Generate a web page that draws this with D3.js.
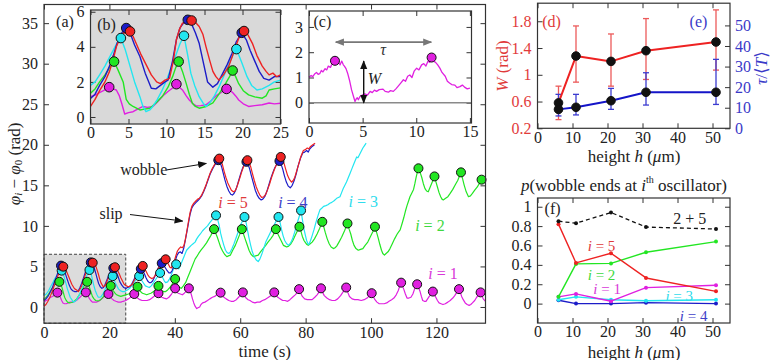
<!DOCTYPE html>
<html><head><meta charset="utf-8">
<script src="https://cdn.jsdelivr.net/npm/d3@7"></script>
<style>body{margin:0;background:#fff}svg text{font-family:"Liberation Serif","DejaVu Serif","Times New Roman",serif !important}</style>
</head><body><svg id="c" width="770" height="360"></svg>
<script>
// ---------------- DATA ----------------
// panel (a): phase difference time series [time (s), rad]
const a5 = [[0,0.1],[0.6,0.3],[1.2,0.7],[2,1.4],[2.6,2.0],[3,2.5],[3.6,3.1],[4.2,3.8],[4.8,4.4],[5.3,4.6],[5.9,4.97],[6.5,4.8],[7,4.3],[7.5,3.8],[8,3.3],[8.5,2.8],[9.1,2.4],[9.5,2.2],[10,2.1],[10.5,1.9],[11,2.2],[11.5,2.6],[12,3.2],[12.5,3.8],[13,4.4],[13.5,4.9],[14.2,5.3],[14.9,5.46],[15.4,5.35],[15.8,5.1],[16.2,4.6],[16.6,4.1],[17,3.5],[17.4,3.0],[18.1,2.5],[18.6,2.6],[19,2.9],[19.5,3.4],[20,3.9],[20.5,4.3],[21,4.6],[21.7,4.9],[22.1,4.8],[22.5,4.5],[23,4.1],[23.5,3.6],[24,3.2],[24.5,2.8],[25.2,2.6],[25.8,2.5],[26.4,2.6],[27,2.8],[27.6,3.3],[28.2,3.8],[28.7,4.3],[29.2,4.6],[29.7,4.9],[30.2,5.06],[30.7,4.8],[31.2,4.4],[31.7,4.0],[32.2,3.7],[32.9,3.5],[33.5,3.6],[34,3.9],[34.5,4.3],[35,4.8],[35.6,5.2],[36.2,5.5],[36.7,5.7],[37.2,5.88],[37.6,5.7],[38,5.3],[38.5,4.9],[38.9,4.8],[39.3,5.1],[39.8,5.6],[40.3,6.3],[40.8,6.9],[41.3,7.2],[41.8,7.4],[42.3,7.3],[42.8,7.6],[43.2,8.3],[43.7,9.4],[44.2,10.6],[44.7,11.7],[45.2,12.4],[45.8,12.8],[46.5,13.1],[47,13.3],[47.5,13.4],[48.2,13.8],[48.8,14.3],[49.5,15.0],[50.1,15.7],[50.8,16.5],[51.5,17.1],[52.2,17.6],[52.9,18.1],[53.6,18.3],[54.1,18.1],[54.6,17.5],[55.1,16.7],[55.6,16.0],[56.2,15.3],[56.8,14.8],[57.3,14.4],[57.9,14.2],[58.4,14.3],[58.8,14.6],[59.3,15.2],[59.8,15.8],[60.4,16.6],[61,17.3],[61.6,17.8],[62.2,18.1],[62.7,17.8],[63.2,17.3],[63.7,16.5],[64.3,15.6],[64.9,14.8],[65.5,14.2],[66,13.8],[66.6,13.5],[67.2,13.6],[67.8,13.9],[68.4,14.5],[69,15.2],[69.6,16.0],[70.3,16.8],[70.9,17.4],[71.5,17.9],[72.4,18.5],[72.9,18.2],[73.4,17.7],[73.9,17.0],[74.5,16.2],[75.1,15.7],[75.7,15.4],[76.2,15.6],[76.7,16.0],[77.2,16.7],[77.8,17.5],[78.5,18.5],[79.3,19.3],[79.9,19.4],[80.5,19.6],[81,19.5],[81.5,19.8],[82.2,20.0],[82.9,20.2]];
const a4 = [[0,0.8],[0.6,1.0],[1.2,1.3],[2,1.9],[2.6,2.4],[3,2.9],[3.6,3.5],[4.2,4.2],[4.7,4.8],[5.2,5.1],[5.7,4.9],[6.2,4.5],[6.7,3.9],[7.2,3.3],[7.7,2.7],[8.3,2.2],[8.8,2.0],[9.4,1.9],[10,1.9],[10.5,2.0],[11,2.4],[11.5,2.9],[12,3.5],[12.5,4.1],[13,4.7],[13.6,5.2],[14.3,5.5],[14.8,5.3],[15.3,4.9],[15.8,4.2],[16.2,3.6],[16.7,2.9],[17.2,2.5],[17.7,2.3],[18.2,2.4],[18.7,2.8],[19.2,3.3],[19.7,3.8],[20.2,4.3],[20.7,4.6],[21.2,4.8],[21.7,4.6],[22.2,4.2],[22.7,3.7],[23.2,3.1],[23.8,2.7],[24.4,2.4],[25,2.3],[25.6,2.4],[26.2,2.5],[26.8,2.8],[27.4,3.3],[28,3.8],[28.5,4.3],[29.2,4.6],[29.7,4.7],[30.2,4.5],[30.7,4.1],[31.2,3.6],[31.7,3.2],[32.2,3.0],[32.7,3.0],[33.2,3.2],[33.7,3.6],[34.2,4.1],[34.8,4.7],[35.4,5.1],[36,5.4],[36.5,5.2],[37,4.9],[37.6,4.5],[38.2,4.2],[38.7,4.2],[39.2,4.5],[39.7,5.1],[40.2,5.8],[40.7,6.4],[41.2,6.7],[41.7,6.8],[42.2,6.6],[42.7,7.2],[43.2,8.2],[43.7,9.3],[44.2,10.4],[44.7,11.5],[45.2,12.2],[45.8,12.6],[46.5,12.9],[47,13.1],[47.5,13.3],[48.2,13.7],[48.8,14.2],[49.5,14.9],[50.1,15.6],[50.8,16.4],[51.5,17.0],[52.2,17.5],[52.8,17.9],[53.3,18.1],[53.8,17.9],[54.3,17.3],[54.8,16.5],[55.3,15.7],[55.9,14.9],[56.5,14.3],[57.1,13.9],[57.6,13.8],[58.1,14.0],[58.6,14.4],[59.1,15.0],[59.6,15.7],[60.2,16.5],[60.8,17.2],[61.4,17.7],[61.9,17.9],[62.4,17.6],[62.9,17.0],[63.4,16.2],[64,15.3],[64.6,14.4],[65.2,13.8],[65.8,13.4],[66.4,13.2],[66.9,13.3],[67.5,13.6],[68.1,14.2],[68.7,15.0],[69.3,15.8],[70,16.6],[70.6,17.2],[71.2,17.6],[72,18.0],[72.5,17.6],[73,17.0],[73.5,16.2],[74.1,15.4],[74.7,14.9],[75.3,14.7],[75.9,15.0],[76.5,15.6],[77.1,16.4],[77.7,17.4],[78.4,18.3],[79.1,19.0],[79.7,19.1],[80.3,19.3],[80.8,19.1],[81.3,19.5],[82,19.8],[82.7,20.0]];
const a3 = [[0,1.4],[0.7,1.6],[1.4,2.0],[2,2.5],[2.7,3.0],[3.3,3.5],[4,3.9],[4.7,4.3],[5.4,4.48],[5.9,4.1],[6.3,3.5],[6.7,2.9],[7.1,2.3],[7.6,1.7],[8,1.2],[8.5,0.9],[9,0.6],[9.5,0.7],[10,0.9],[10.5,1.3],[11,1.7],[11.5,2.2],[12,2.7],[12.5,3.2],[13,3.8],[13.5,4.3],[13.9,4.56],[14.4,4.1],[14.8,3.4],[15.2,2.7],[15.7,2.0],[16.2,1.5],[16.6,1.2],[17.1,1.2],[17.5,1.3],[18,1.6],[18.5,2.0],[19,2.5],[19.5,3.0],[20.2,3.5],[21,3.8],[21.4,3.4],[21.8,3.0],[22.3,2.6],[22.8,2.2],[23.4,2.0],[24,1.9],[24.7,1.9],[25.5,2.1],[26.2,2.3],[26.8,2.6],[27.4,2.9],[28,3.3],[28.6,3.6],[29.1,3.8],[29.6,3.5],[30,3.2],[30.5,2.9],[31,2.6],[31.6,2.5],[32.2,2.4],[32.8,2.6],[33.5,3.0],[34,3.3],[34.5,3.6],[35,3.9],[35.5,4.2],[35.9,3.9],[36.3,3.6],[36.8,3.2],[37.2,3.0],[37.8,3.1],[38.3,3.4],[38.9,3.9],[39.4,4.5],[39.9,4.9],[40.4,5.26],[40.8,4.9],[41.2,4.7],[41.7,5.1],[42.2,5.6],[42.8,6.2],[43.6,7.0],[44.3,7.3],[45,7.6],[45.6,7.8],[46.2,8.0],[46.7,8.4],[47.2,8.7],[47.8,9.0],[48.5,9.4],[49.2,9.7],[50,10.0],[50.7,10.4],[51.5,10.8],[52.1,11.1],[52.6,11.3],[53.1,10.8],[53.6,10.0],[54,9.1],[54.5,8.3],[55,7.6],[55.5,7.0],[56,6.7],[56.5,6.6],[57,6.8],[57.5,7.2],[58.1,7.8],[58.8,8.6],[59.5,9.4],[60.2,10.2],[60.8,10.7],[61.3,11.1],[61.8,10.4],[62.2,9.5],[62.7,8.5],[63.2,7.6],[63.7,6.8],[64.3,6.2],[64.9,5.8],[65.5,5.6],[66,5.9],[66.5,6.4],[67.1,7.1],[67.8,8.0],[68.4,8.5],[69,9.0],[69.7,9.6],[70.5,10.2],[71.1,10.7],[71.7,11.1],[72.2,10.4],[72.6,9.6],[73.1,8.8],[73.6,8.2],[74.2,7.8],[74.8,7.6],[75.4,7.9],[76,8.4],[76.7,9.3],[77.3,10.2],[78,11.1],[78.6,11.9],[79,10.8],[79.5,9.6],[80,8.7],[80.3,8.2],[80.7,7.8],[81,7.7],[81.5,8.2],[82,8.8],[82.6,9.6],[83.2,10.5],[83.8,11.3],[84.4,12.0],[85,12.2],[85.5,12.4],[86.2,12.5],[86.8,12.6],[87.4,12.8],[88,12.9],[88.7,13.1],[89.5,13.4],[90.5,13.6],[91,14.1],[91.5,14.6],[92,15.0],[92.5,15.4],[93,15.9],[93.6,16.5],[94.1,17.0],[94.6,17.5],[95.1,18.0],[95.6,18.5],[96,18.4],[96.5,18.8],[97,19.2],[97.5,19.6],[98,19.9],[98.5,20.2]];
const a2 = [[0,0.9],[0.7,1.2],[1.4,1.6],[2,2.0],[2.6,2.4],[3.2,2.7],[4,2.9],[4.7,3.1],[5.1,2.8],[5.5,2.4],[5.9,1.8],[6.3,1.2],[6.8,0.8],[7.2,0.6],[7.8,0.5],[8.5,0.55],[9,0.65],[9.5,0.8],[10,1.0],[10.5,1.3],[11,1.6],[11.5,2.0],[12,2.4],[12.4,2.7],[12.8,2.9],[13.2,3.1],[13.6,2.8],[14,2.3],[14.4,1.8],[14.8,1.3],[15.3,1.0],[15.8,0.8],[16.4,0.75],[17,0.8],[17.6,1.0],[18.2,1.3],[18.8,1.6],[19.4,2.0],[19.9,2.3],[20.4,2.6],[20.8,2.3],[21.2,2.0],[21.7,1.7],[22.2,1.5],[22.8,1.4],[23.5,1.3],[24.2,1.4],[25,1.5],[25.8,1.6],[26.5,1.7],[27.1,1.9],[27.6,2.2],[28.1,2.4],[28.6,2.5],[29,2.2],[29.5,1.9],[30.1,1.7],[30.8,1.6],[31.4,1.5],[32,1.6],[32.7,1.7],[33.5,1.9],[34.2,2.2],[35,2.6],[35.5,2.3],[36,2.0],[36.6,1.9],[37.2,1.9],[37.8,2.1],[38.5,2.4],[39.3,2.9],[40.1,3.45],[40.5,3.0],[41,2.6],[41.5,2.4],[42,2.3],[42.6,2.6],[43.3,3.0],[43.9,3.6],[44.5,4.2],[45.2,4.9],[45.8,5.5],[46.2,5.9],[46.7,6.2],[47.3,6.6],[48,7.0],[48.8,7.4],[49.7,7.9],[50.4,8.4],[51,8.8],[51.5,9.2],[52,9.6],[52.5,9.1],[53,8.6],[53.5,8.0],[54,7.4],[54.6,6.9],[55.2,6.5],[55.9,6.2],[56.4,6.3],[57,6.4],[57.7,7.0],[58.5,7.6],[59.1,8.2],[59.7,8.8],[60.1,9.2],[60.5,9.6],[61,9.0],[61.5,8.4],[62.1,7.7],[62.7,7.0],[63.3,6.5],[64,6.2],[64.7,6.3],[65.5,6.4],[66.2,6.8],[67,7.2],[67.8,7.6],[68.5,8.0],[69.3,8.4],[70,8.8],[70.5,9.2],[70.9,9.6],[71.4,9.1],[72,8.6],[72.6,8.1],[73.2,7.6],[73.7,7.5],[74.2,7.4],[74.8,7.5],[75.5,7.8],[76.1,8.2],[76.8,8.8],[77.5,9.4],[78.1,9.9],[78.6,9.3],[79,8.7],[79.5,8.2],[80,7.9],[80.4,7.7],[80.8,7.6],[81.4,7.8],[82,8.0],[82.7,8.4],[83.5,9.0],[84.3,9.7],[85.1,10.5],[85.6,9.8],[86,9.2],[86.6,8.4],[87.2,7.8],[87.8,7.4],[88.5,7.2],[89,7.3],[89.5,7.5],[90.2,8.0],[91,8.6],[91.9,9.4],[92.8,10.3],[93.3,9.6],[93.8,9.0],[94.3,8.2],[94.8,7.6],[95.4,7.2],[96.1,7.0],[96.8,7.1],[97.5,7.2],[98.2,7.6],[99,8.0],[99.6,8.5],[100.2,9.0],[100.7,9.4],[101.2,9.9],[101.7,9.2],[102.2,8.5],[102.7,7.7],[103.2,7.0],[103.6,6.6],[104.1,6.4],[104.6,6.6],[105.2,6.8],[105.8,7.2],[106.5,7.8],[107.2,8.4],[108,9.0],[108.5,9.3],[108.9,9.5],[109.5,10.3],[110,11.0],[110.5,11.8],[111,12.5],[111.5,13.1],[111.9,13.6],[112.4,14.0],[113,14.5],[113.4,15.2],[113.8,16.0],[114.2,16.7],[114.5,17.1],[115,16.6],[115.5,16.0],[116,15.2],[116.5,14.6],[117,14.3],[117.5,14.2],[118,14.7],[118.5,15.2],[119,15.7],[119.4,16.1],[119.8,15.5],[120.3,14.8],[120.8,14.1],[121.3,13.6],[121.7,13.3],[122.1,13.2],[122.8,13.4],[123.5,13.6],[124.2,14.0],[125,14.5],[125.8,15.1],[126.5,15.6],[127,16.1],[127.5,16.6],[128,15.8],[128.5,15.0],[129.1,14.2],[129.8,13.6],[130.4,13.7],[131,14.0],[131.7,14.4],[132.5,14.8],[133.2,15.3],[133.8,15.7],[134.4,15.4],[135,15.3]];
const a1 = [[0,0.6],[0.6,0.8],[1.2,0.9],[2,1.2],[2.6,1.3],[3.3,1.5],[4.1,1.77],[4.6,1.5],[5,1.2],[5.4,0.8],[5.8,0.5],[6.3,0.4],[6.8,0.4],[7.4,0.5],[8,0.6],[8.7,0.6],[9.5,0.7],[10.2,0.9],[11,1.2],[11.5,1.4],[12,1.6],[12.8,1.8],[13.3,1.5],[13.8,1.1],[14.3,0.8],[14.8,0.6],[15.4,0.6],[16,0.6],[16.7,0.7],[17.3,0.9],[17.9,1.1],[18.5,1.3],[19.1,1.5],[19.7,1.6],[20.2,1.3],[20.8,1.0],[21.4,0.8],[22,0.7],[22.7,0.6],[23.5,0.6],[24.2,0.7],[25,0.8],[25.8,1.0],[26.5,1.2],[27.1,1.4],[27.6,1.6],[28.1,1.3],[28.6,1.1],[29.3,0.9],[30,0.8],[30.7,0.8],[31.5,0.8],[32.3,0.9],[33,1.1],[33.6,1.3],[34.2,1.5],[35,1.7],[35.5,1.4],[36,1.2],[36.7,1.1],[37.5,1.0],[38.2,1.2],[39,1.6],[39.6,2.0],[40.1,2.3],[40.5,1.9],[41,1.7],[41.7,1.6],[42.3,1.5],[42.9,1.7],[43.4,1.9],[43.9,2.1],[44.3,2.3],[44.7,1.9],[45,1.6],[45.4,1.0],[45.8,0.5],[46.2,0.1],[46.7,-0.2],[47.1,-0.1],[47.6,0.0],[48,0.3],[48.5,0.5],[49.2,0.6],[50,0.8],[50.7,1.0],[51.5,1.2],[52.2,1.3],[52.8,1.5],[53.4,1.6],[54,1.77],[54.5,1.5],[55,1.2],[55.7,1.0],[56.5,0.8],[57.2,0.7],[58,0.7],[58.8,0.9],[59.5,1.2],[60.2,1.5],[60.8,1.8],[61.3,1.4],[61.8,1.1],[62.4,0.9],[63,0.8],[63.7,0.6],[64.5,0.5],[65.2,0.6],[66,0.6],[66.8,0.8],[67.5,0.9],[68.3,1.1],[69,1.3],[69.7,1.5],[70.4,1.8],[70.9,1.5],[71.5,1.2],[72.2,1.0],[73,0.8],[73.7,0.8],[74.5,0.7],[75.2,0.9],[76,1.2],[76.8,1.5],[77.5,1.8],[78,2.2],[78.5,1.7],[79,1.3],[79.7,1.0],[80.5,0.9],[81.2,0.9],[82,0.9],[82.8,1.2],[83.5,1.5],[84.2,1.9],[84.7,2.3],[85.2,1.8],[85.7,1.4],[86.5,1.1],[87.3,0.9],[88.1,0.8],[89,0.8],[89.8,1.0],[90.7,1.4],[91.5,1.9],[92.4,2.4],[92.9,1.8],[93.4,1.3],[94.2,1.0],[95,0.9],[96,0.9],[97,0.8],[97.9,0.9],[98.8,1.1],[99.5,1.4],[100.2,1.7],[100.7,1.3],[101.2,0.9],[101.8,0.6],[102.5,0.4],[103.3,0.4],[104,0.4],[104.8,0.5],[105.5,0.7],[106.3,0.9],[107,1.1],[107.7,1.5],[108.3,2.0],[108.8,2.6],[109.2,3.0],[109.6,2.6],[110,2.2],[110.5,1.6],[111,1.1],[111.6,1.1],[112.2,1.2],[112.8,1.6],[113.3,2.2],[113.7,2.5],[114.1,2.8],[114.5,2.4],[115,1.9],[115.4,1.3],[115.8,0.8],[116.3,0.7],[116.8,0.7],[117.3,1.0],[117.8,1.3],[118.4,1.6],[118.9,1.9],[119.3,1.6],[119.8,1.2],[120.3,0.8],[120.8,0.5],[121.4,0.4],[122,0.3],[122.7,0.4],[123.5,0.6],[124.2,0.8],[125,1.1],[125.6,1.4],[126.2,1.8],[126.9,2.2],[127.3,1.8],[127.7,1.3],[128.2,0.9],[128.8,0.5],[129.4,0.3],[130,0.2],[130.5,0.3],[131,0.5],[131.7,0.8],[132.3,1.2],[132.9,1.5],[133.5,1.8],[133.9,1.4],[134.3,1.0],[135,0.7]];
// peak markers in (a)
const pk5 = [[5.9,4.97],[14.9,5.46],[21.7,4.9],[30.2,5.06],[37.2,5.88],[53.6,18.3],[62.2,18.1],[72.4,18.5]];
const pk4 = [[5.2,5.1],[14.3,5.5],[21.2,4.8],[29.6,4.7],[36.0,5.4],[53.3,18.1],[61.9,17.9],[72.0,18.0]];
const pk3 = [[5.4,4.48],[13.9,4.56],[21.0,3.8],[29.1,3.8],[35.5,4.2],[40.4,5.26],[52.6,11.3],[61.3,11.1],[71.7,11.1],[78.6,11.9]];
const pk2 = [[4.7,3.1],[13.2,3.1],[20.4,2.6],[28.6,2.5],[35.0,2.6],[40.1,3.45],[52.0,9.6],[60.5,9.6],[70.9,9.6],[78.1,9.9],[85.1,10.5],[92.8,10.3],[101.2,9.9],[114.5,17.1],[119.4,16.1],[127.5,16.6],[133.8,15.7]];
const pk1 = [[4.1,1.77],[12.8,1.8],[19.7,1.6],[27.6,1.6],[35.0,1.7],[40.1,2.3],[44.3,2.3],[54.0,1.77],[60.8,1.8],[70.4,1.8],[78.0,2.2],[84.7,2.3],[92.4,2.4],[100.2,1.7],[109.2,3.0],[114.1,2.8],[118.9,1.9],[126.9,2.2],[133.5,1.8]];
const ticksAx = [0,20,40,60,80,100,120];
const ticksAy = [0,5,10,15,20,25,30,35];
const zoomBox = [0,25,-2,6.5]; // t0,t1,v0,v1

// panel (b): first 25 s enlarged
const b5 = [[0,0.6],[0.6,1.0],[1.2,1.5],[1.9,2.0],[2.5,2.6],[3.0,3.3],[3.4,4.0],[3.9,4.5],[4.3,4.8],[4.8,4.75],[5.2,4.88],[5.6,4.6],[6.0,4.2],[6.6,3.6],[7.3,3.0],[8.0,2.4],[8.7,2.0],[9.2,1.9],[9.8,2.1],[10.4,2.2],[10.9,3.2],[11.3,4.4],[11.7,5.0],[12.1,5.35],[12.6,5.4],[13.2,5.5],[13.8,5.4],[14.3,5.16],[14.8,4.7],[15.2,4.0],[15.7,3.2],[16.1,2.6],[16.5,2.3],[16.9,2.1],[17.5,2.4],[18.2,2.9],[18.7,3.5],[19.1,4.0],[19.6,4.6],[20.2,4.9],[20.7,4.7],[21.3,4.2],[21.9,3.5],[22.6,2.9],[23.1,2.6],[23.5,2.4],[24.0,2.5],[24.5,2.3],[25,2.4]];
const b4 = [[0,1.05],[0.6,1.3],[1.2,1.8],[1.9,2.3],[2.5,2.9],[3.0,3.5],[3.5,4.2],[4.0,4.7],[4.4,5.0],[4.7,5.07],[5.2,4.8],[5.8,4.1],[6.5,3.45],[7.2,2.5],[8.0,1.64],[8.6,1.6],[9.2,1.8],[9.8,2.0],[10.2,2.1],[10.8,3.2],[11.3,4.4],[11.8,5.1],[12.3,5.4],[12.8,5.54],[13.4,5.2],[13.8,4.8],[14.3,4.2],[14.9,3.0],[15.4,2.0],[16.1,1.7],[16.7,1.9],[17.3,2.4],[18.0,3.0],[18.6,3.6],[19.2,4.3],[19.9,4.8],[20.5,4.4],[21.0,3.8],[21.5,3.3],[22.2,2.6],[22.8,2.2],[23.5,2.1],[24.2,2.3],[25,2.3]];
const b3 = [[0,1.8],[0.6,2.0],[1.2,2.4],[1.9,2.9],[2.5,3.4],[3.1,3.9],[3.6,4.3],[4.0,4.5],[4.6,3.8],[5.2,2.9],[5.8,2.0],[6.5,1.16],[6.9,0.6],[7.3,0.3],[7.8,0.4],[8.2,0.6],[8.8,1.0],[9.4,1.5],[10.0,2.1],[10.6,2.8],[11.3,3.6],[11.8,4.2],[12.3,4.63],[12.8,3.5],[13.2,2.5],[13.7,1.8],[14.3,1.16],[14.8,0.8],[15.2,0.6],[15.7,0.8],[16.3,1.2],[16.9,1.7],[17.5,2.3],[18.2,3.0],[18.7,3.5],[19.2,3.87],[19.9,3.1],[20.6,2.3],[21.2,1.8],[21.9,1.54],[22.6,1.6],[23.5,1.8],[24.2,2.0],[25,2.1]];
const b2 = [[0,1.35],[0.6,1.6],[1.2,2.0],[1.9,2.4],[2.5,2.8],[3.1,3.16],[3.6,2.7],[4.3,2.0],[4.7,1.0],[5.1,0.75],[5.6,0.6],[6.5,0.4],[7.1,0.45],[7.8,0.5],[8.6,0.8],[9.5,1.2],[10.2,1.7],[10.8,2.3],[11.2,2.8],[11.6,3.16],[12.1,2.6],[12.6,1.9],[13.0,1.3],[13.4,0.78],[13.8,0.6],[14.3,0.5],[15.2,0.6],[16.1,0.8],[16.9,1.3],[17.8,1.93],[18.3,2.3],[18.7,2.65],[19.1,2.3],[19.5,1.9],[20.1,1.5],[20.8,1.26],[21.6,1.15],[22.6,1.07],[23.1,1.2],[23.5,1.54],[24.2,1.6],[25,1.66]];
const b1 = [[0,1.16],[0.6,1.25],[1.24,1.4],[1.9,1.55],[2.46,1.7],[2.9,1.6],[3.4,1.54],[3.8,1.2],[4.1,0.78],[4.5,0.17],[5.0,0.25],[5.6,0.3],[6.2,0.45],[6.9,0.6],[7.5,0.55],[8.2,0.6],[8.8,0.85],[9.5,1.2],[10.2,1.45],[10.8,1.65],[11.3,1.87],[11.7,1.7],[12.1,1.54],[12.6,1.2],[13.0,0.97],[13.5,0.75],[13.9,0.63],[14.5,0.65],[15.2,0.7],[15.8,0.9],[16.5,1.2],[17.2,1.4],[17.9,1.6],[18.3,1.5],[18.7,1.4],[19.1,1.2],[19.5,0.97],[20.1,0.75],[20.8,0.6],[21.6,0.65],[22.6,0.7],[23.5,0.8],[24.2,0.75],[25,0.78]];
const bpk5 = [[5.2,4.88],[13.3,5.5],[20.2,4.9]];
const bpk4 = [[4.7,5.07],[12.8,5.54],[19.9,4.8]];
const bpk3 = [[4.0,4.5],[12.3,4.63],[19.2,3.87]];
const bpk2 = [[3.1,3.16],[11.6,3.16],[18.7,2.65]];
const bpk1 = [[2.46,1.7],[11.3,1.87],[17.9,1.6]];
const ticksBx = [0,5,10,15,20,25];
const ticksBy = [0,2,4,6];

// panel (c): oscillator 1, one wobble
const c1 = [[0,1.01],[0.2,1.08],[0.35,1.03],[0.55,1.15],[0.7,1.2],[0.85,1.12],[1.0,1.15],[1.15,1.28],[1.3,1.22],[1.5,1.35],[1.65,1.3],[1.8,1.45],[2.0,1.4],[2.2,1.58],[2.42,1.66],[2.6,1.55],[2.75,1.6],[2.9,1.5],[3.05,1.65],[3.2,1.5],[3.3,1.45],[3.45,1.35],[3.6,1.17],[3.8,0.85],[3.97,0.51],[4.15,0.25],[4.29,0.05],[4.4,0.15],[4.5,0.2],[4.6,0.12],[4.75,0.25],[4.95,0.3],[5.2,0.35],[5.45,0.3],[5.7,0.45],[5.9,0.4],[6.1,0.5],[6.3,0.45],[6.55,0.52],[6.9,0.54],[7.1,0.45],[7.4,0.42],[7.6,0.48],[7.86,0.45],[8.1,0.55],[8.3,0.65],[8.55,0.78],[8.8,0.91],[9.0,0.85],[9.2,1.05],[9.4,1.1],[9.6,1.0],[9.8,1.25],[10.04,1.37],[10.25,1.3],[10.5,1.5],[10.7,1.55],[10.9,1.45],[11.1,1.65],[11.25,1.6],[11.43,1.79],[11.6,1.65],[11.8,1.6],[12.0,1.5],[12.2,1.37],[12.4,1.2],[12.7,1.05],[12.9,0.85],[13.1,0.78],[13.3,0.72],[13.6,0.7],[13.8,0.6],[14.07,0.64],[14.3,0.7],[14.5,0.62],[14.75,0.55],[15,0.58]];
const cpk1 = [[2.42,1.66],[11.43,1.79]];
const tauArrow = [2.5,11.4,2.4];   // t0,t1,v
const wArrow = [5.1,0,1.65];       // t,v0,v1
const ticksCx = [0,5,10,15];
const ticksCy = [0,1,2,3];

// panels (d),(e): versus height
const heights = [6,11,21,31,51];
const W = [0.58,1.28,1.2,1.36,1.49];
const Wlo = [0.33,0.89,0.83,0.93,1.07];
const Whi = [0.83,1.73,1.61,1.84,1.97];
const tau = [9.2,10.2,13.4,17.5,17.5];
const tauLo = [6,6.5,9.2,11.3,11.6];
const tauHi = [16.5,16.5,19.4,27,33.5];
const ticksH = [0,10,20,30,40,50];
const ticksW = [0.2,0.6,1,1.4,1.8];
const ticksTau = [0,10,20,30,40,50];

// panel (f): probability that wobble ends at oscillator i
const pSum = [0.85,0.83,0.94,0.79,0.77];
const p5 = [0.82,0.42,0.52,0.265,0.127];
const p2 = [0.07,0.41,0.415,0.53,0.64];
const p1 = [0.07,0.10,0.025,0.165,0.19];
const p3 = [0.04,0.07,0.04,0.03,0.04];
const p4 = [0.035,0.0,0.0,0.01,0.0];
const ticksP = [0,0.2,0.4,0.6,0.8,1];

// ---------------- DRAW ----------------
const col = {1:"#e020e0",2:"#22e622",3:"#22e6f0",4:"#1c1cc8",5:"#ee2222"};
const tcol = {1:"#d838d8",2:"#40d840",3:"#30dcec",4:"#4040c8",5:"#e03a3a"};
const svg = d3.select("#c");
const FS = 16;

function frame(x, y, xt, yt, o) {
  o = o || {};
  const g = svg.append("g");
  const [x0,x1] = x.range(), [y0,y1] = y.range();
  if (o.fill) g.append("rect").attr("x",x0).attr("y",y1).attr("width",x1-x0).attr("height",y0-y1).attr("fill",o.fill);
  const ax = g.append("g").attr("transform",`translate(0,${y0})`).call(d3.axisBottom(x).tickValues(xt).tickSizeInner(-5).tickSizeOuter(0).tickPadding(3).tickFormat(d=>d));
  const axT = g.append("g").attr("transform",`translate(0,${y1})`).call(d3.axisTop(x).tickValues(xt).tickSizeInner(-5).tickSizeOuter(0).tickFormat(""));
  const ay = g.append("g").attr("transform",`translate(${x0},0)`).call(d3.axisLeft(y).tickValues(yt).tickSizeInner(-5).tickSizeOuter(0).tickPadding(6).tickFormat(d=>d));
  let ayR = null;
  if (!o.noRight) ayR = g.append("g").attr("transform",`translate(${x1},0)`).call(d3.axisRight(y).tickValues(yt).tickSizeInner(-5).tickSizeOuter(0).tickFormat(""));
  [ax,axT,ay,ayR].forEach(a=>{ if(!a) return; a.select(".domain").remove(); a.selectAll("line").attr("stroke","#333"); a.selectAll("text").attr("font-size",FS).attr("fill","#222");});
  if (o.ycol) ay.selectAll("text").attr("fill",o.ycol);
  return g;
}
function border(x,y){
  const [x0,x1] = x.range(), [y0,y1] = y.range();
  svg.append("rect").attr("x",x0).attr("y",y1).attr("width",x1-x0).attr("height",y0-y1).attr("fill","none").attr("stroke","#333").attr("stroke-width",1.2);
}
function curve(g,data,x,y,c,w){
  g.append("path").datum(data).attr("fill","none").attr("stroke",c).attr("stroke-width",w).attr("stroke-linejoin","round")
   .attr("d",d3.line().x(d=>x(d[0])).y(d=>y(d[1])));
}
function dots(g,data,x,y,c,r){
  g.selectAll(null).data(data).enter().append("circle").attr("cx",d=>x(d[0])).attr("cy",d=>y(d[1])).attr("r",r).attr("fill",c).attr("stroke","#111").attr("stroke-width",1);
}
function txt(s, px, py, c, fs, style){
  return svg.append("text").attr("x",px).attr("y",py).attr("fill",c||"#222").attr("font-size",fs||FS).attr("font-style",style||null)
    .attr("text-anchor","middle").attr("dominant-baseline","central").text(s);
}
function iEq(n, px, py, c, fs){
  const t = txt("",px,py,c,fs);
  t.append("tspan").attr("font-style","italic").text("i");
  t.append("tspan").text(" = "+n);
}
function arrowHead(id,c){
  svg.append("defs").append("marker").attr("id",id).attr("viewBox","0 0 10 10").attr("refX",9).attr("refY",5)
   .attr("markerWidth",9).attr("markerHeight",9).attr("markerUnits","userSpaceOnUse").attr("orient","auto-start-reverse")
   .append("path").attr("d","M0,1 L10,5 L0,9 z").attr("fill",c);
}
arrowHead("ahK","#111"); arrowHead("ahG","#777");

// ----- panel (a)
const xA = d3.scaleLinear([0,135],[44,485.5]);
const yA = d3.scaleLinear([-2,37.3],[323.2,4.5]);
frame(xA,yA,ticksAx,ticksAy,{});
svg.append("rect").attr("x",xA(zoomBox[0])).attr("y",yA(zoomBox[3])).attr("width",xA(zoomBox[1])-xA(zoomBox[0])).attr("height",yA(zoomBox[2])-yA(zoomBox[3]))
  .attr("fill","#dcdcdc").attr("stroke","#444").attr("stroke-dasharray","3,2").attr("stroke-width",1);
const gA = svg.append("g");
[[a1,1],[a2,2],[a3,3],[a4,4],[a5,5]].forEach(([d,i])=>curve(gA,d,xA,yA,col[i],1.2));
[[pk1,1],[pk2,2],[pk3,3],[pk4,4],[pk5,5]].forEach(([d,i])=>dots(gA,d,xA,yA,col[i],4.5));
border(xA,yA);
txt("wobble",xA(30.5),yA(17.0));
svg.append("line").attr("x1",xA(37.5)).attr("y1",yA(16.9)).attr("x2",xA(49.6)).attr("y2",yA(17.7)).attr("stroke","#111").attr("stroke-width",1).attr("marker-end","url(#ahK)");
txt("slip",xA(20.5),yA(11.5));
svg.append("line").attr("x1",xA(26.3)).attr("y1",yA(11.4)).attr("x2",xA(42.4)).attr("y2",yA(10.6)).attr("stroke","#111").attr("stroke-width",1).attr("marker-end","url(#ahK)");
iEq(5,xA(57.8),yA(13.0),tcol[5]);
iEq(4,xA(76.1),yA(13.0),tcol[4]);
iEq(3,xA(97.6),yA(13.1),tcol[3]);
iEq(2,xA(118),yA(10.1),tcol[2]);
iEq(1,xA(122),yA(4.2),tcol[1]);
txt("(a)",xA(6.4),yA(35.2));
{
  const t = svg.append("text").attr("transform",`translate(14,${(yA.range()[0]+yA.range()[1])/2}) rotate(-90)`).attr("font-size",FS+1).attr("text-anchor","middle").attr("dominant-baseline","central").attr("fill","#222");
  t.append("tspan").attr("font-style","italic").text("φ");
  t.append("tspan").attr("font-style","italic").attr("font-size",11).attr("dy",4).text("i");
  t.append("tspan").attr("dy",-4).text(" − ");
  t.append("tspan").attr("font-style","italic").text("φ");
  t.append("tspan").attr("font-size",11).attr("dy",4).text("0");
  t.append("tspan").attr("dy",-4).text(" (rad)");
  txt("time (s)",(xA.range()[0]+xA.range()[1])/2,351,"#222",FS+1);
}

// ----- panel (b)
const xB = d3.scaleLinear([0,25],[90.5,280.5]);
const yB = d3.scaleLinear([-0.4,6.1],[124,10]);
frame(xB,yB,ticksBx,ticksBy,{fill:"#d9d9d9"});
const gB = svg.append("g");
[[b1,1],[b2,2],[b3,3],[b4,4],[b5,5]].forEach(([d,i])=>curve(gB,d,xB,yB,col[i],1.4));
[[bpk1,1],[bpk2,2],[bpk3,3],[bpk4,4],[bpk5,5]].forEach(([d,i])=>dots(gB,d,xB,yB,col[i],4.8));
border(xB,yB);
txt("(b)",xB(2.1),yB(5.3));

// ----- panel (c)
const xC = d3.scaleLinear([0,15.15],[309,471.5]);
const yC = d3.scaleLinear([-0.8,3.63],[123,11]);
frame(xC,yC,ticksCx,ticksCy,{fill:"#fff"});
svg.append("line").attr("x1",xC(0)).attr("x2",xC(15.15)).attr("y1",yC(0)).attr("y2",yC(0)).attr("stroke","#8a8a8a").attr("stroke-width",1.6);
const gC = svg.append("g");
curve(gC,c1,xC,yC,col[1],1.3);
dots(gC,cpk1,xC,yC,col[1],4.5);
svg.append("line").attr("x1",xC(tauArrow[0])).attr("x2",xC(tauArrow[1])).attr("y1",yC(tauArrow[2])).attr("y2",yC(tauArrow[2])).attr("stroke","#777").attr("stroke-width",1.6).attr("marker-start","url(#ahG)").attr("marker-end","url(#ahG)");
txt("τ",xC(6.9),yC(2.1),"#333",FS,"italic");
svg.append("line").attr("x1",xC(wArrow[0])).attr("x2",xC(wArrow[0])).attr("y1",yC(wArrow[1])).attr("y2",yC(wArrow[2])).attr("stroke","#111").attr("stroke-width",1.4).attr("marker-start","url(#ahK)").attr("marker-end","url(#ahK)");
txt("W",xC(6.1),yC(0.95),"#222",FS,"italic");
border(xC,yC);
txt("(c)",xC(1.25),yC(3.2));

// ----- panels (d),(e)
const xD = d3.scaleLinear([0,55],[537.5,730]);
const yW = d3.scaleLinear([0.2,2.07],[128.3,3.2]);
const yT = d3.scaleLinear([0,60.8],[128.3,3.2]);
frame(xD,yW,ticksH,ticksW,{noRight:true,ycol:"#e23b3b"});
{
  const ar = svg.append("g").attr("transform",`translate(730,0)`).call(d3.axisRight(yT).tickValues(ticksTau).tickSizeInner(-5).tickSizeOuter(0).tickPadding(5));
  ar.select(".domain").remove(); ar.selectAll("line").attr("stroke","#333");
  ar.selectAll("text").attr("font-size",FS).attr("fill","#3a3ac8");
}
const gD = svg.append("g");
const errW = heights.map((h,k)=>({h,lo:Wlo[k],hi:Whi[k]}));
const errT = heights.map((h,k)=>({h,lo:tauLo[k],hi:tauHi[k]}));
function errbars(data,y,c){
  data.forEach(d=>{
    gD.append("line").attr("x1",xD(d.h)).attr("x2",xD(d.h)).attr("y1",y(d.lo)).attr("y2",y(d.hi)).attr("stroke",c).attr("stroke-width",1.3);
    [d.lo,d.hi].forEach(v=>gD.append("line").attr("x1",xD(d.h)-3).attr("x2",xD(d.h)+3).attr("y1",y(v)).attr("y2",y(v)).attr("stroke",c).attr("stroke-width",1.3));
  });
}
errbars(errW,yW,"#ec5a5a");
errbars(errT,yT,"#3b3bd0");
curve(gD,heights.map((h,k)=>[h,W[k]]),xD,yW,"#ee2222",2);
curve(gD,heights.map((h,k)=>[h,tau[k]]),xD,yT,"#1414c8",2);
dots(gD,heights.map((h,k)=>[h,W[k]]),xD,yW,"#111",4.3);
dots(gD,heights.map((h,k)=>[h,tau[k]]),xD,yT,"#111",4.3);
border(xD,yW);
txt("(d)",xD(4),yW(1.8),"#e03a3a");
txt("(e)",xD(46),yW(1.8),"#3a3ac8");
{
  const t = svg.append("text").attr("transform",`translate(502,66) rotate(-90)`).attr("font-size",FS+1).attr("text-anchor","middle").attr("dominant-baseline","central").attr("fill","#e03a3a");
  t.append("tspan").attr("font-style","italic").text("W");
  t.append("tspan").text(" (rad)");
  const t2 = svg.append("text").attr("transform",`translate(761,68) rotate(-90)`).attr("font-size",FS+1).attr("text-anchor","middle").attr("dominant-baseline","central").attr("fill","#3a3ac8");
  t2.append("tspan").attr("font-style","italic").text("τ");
  t2.append("tspan").text("/⟨");
  t2.append("tspan").attr("font-style","italic").text("T");
  t2.append("tspan").text("⟩");
}
function hTitle(py){
  const t = txt("",634,py,"#222",FS+1);
  t.append("tspan").text("height ");
  t.append("tspan").attr("font-style","italic").text("h");
  t.append("tspan").text(" (");
  t.append("tspan").attr("font-style","italic").text("μ");
  t.append("tspan").text("m)");
}
hTitle(156);

// ----- panel (f)
const yF = d3.scaleLinear([-0.2,1.09],[323,198]);
frame(xD,yF,ticksH,ticksP,{});
const gF = svg.append("g");
[[p4,4],[p3,3],[p1,1],[p2,2],[p5,5]].forEach(([p,i])=>{
  const d = heights.map((h,k)=>[h,p[k]]);
  curve(gF,d,xD,yF,col[i],1.4);
  gF.selectAll(null).data(d).enter().append("circle").attr("cx",q=>xD(q[0])).attr("cy",q=>yF(q[1])).attr("r",2).attr("fill",col[i]);
});
{
  const d = heights.map((h,k)=>[h,pSum[k]]);
  gF.append("path").datum(d).attr("fill","none").attr("stroke","#111").attr("stroke-width",1.3).attr("stroke-dasharray","4,3").attr("d",d3.line().x(q=>xD(q[0])).y(q=>yF(q[1])));
  gF.selectAll(null).data(d).enter().append("circle").attr("cx",q=>xD(q[0])).attr("cy",q=>yF(q[1])).attr("r",2).attr("fill","#111");
}
border(xD,yF);
txt("(f)",xD(4.3),yF(0.98));
txt("2 + 5",xD(43.5),yF(0.88));
iEq(5,xD(18.3),yF(0.595),tcol[5],15);
iEq(2,xD(18.3),yF(0.30),tcol[2],15);
iEq(1,xD(19.9),yF(0.15),tcol[1],15);
iEq(3,xD(40.5),yF(0.08),tcol[3],15);
iEq(4,xD(44.6),yF(-0.125),tcol[4],15);
{
  const t = txt("",624,185,"#222",FS+1);
  t.append("tspan").attr("font-style","italic").text("p");
  t.append("tspan").text("(wobble ends at ");
  t.append("tspan").attr("font-style","italic").text("i");
  t.append("tspan").attr("font-size",10).attr("dy",-6).text("th");
  t.append("tspan").attr("dy",6).text(" oscillator)");
}
hTitle(352);
</script></body></html>
